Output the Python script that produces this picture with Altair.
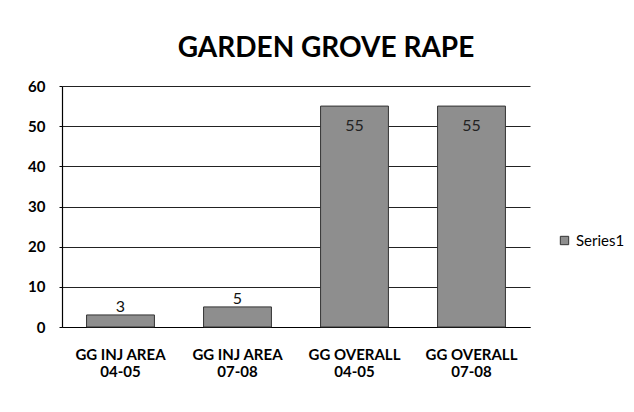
import altair as alt
import pandas as pd

categories = ["GG INJ AREA|04-05", "GG INJ AREA|07-08", "GG OVERALL|04-05", "GG OVERALL|07-08"]
values = [3, 5, 55, 55]
series = ["Series1"] * 4

df = pd.DataFrame({"cat": categories, "value": values, "series": series})

FONT = "Lato"

base = alt.Chart(df)

x = alt.X("cat:N", sort=categories, title=None,
          scale=alt.Scale(paddingInner=0.42, paddingOuter=0.21),
          axis=alt.Axis(labelExpr="split(datum.label, '|')", labelAngle=0,
                        labelFont=FONT, labelFontWeight="bold", labelFontSize=15,
                        labelColor="#000", labelPadding=20, labelLineHeight=17,
                        ticks=False, domainColor="#000", domainWidth=1.2))
y = alt.Y("value:Q", title=None,
          scale=alt.Scale(domain=[0, 60]),
          axis=alt.Axis(values=[0, 10, 20, 30, 40, 50, 60], labelFont=FONT,
                        labelFontWeight="bold", labelFontSize=15, labelColor="#000",
                        labelPadding=14, tickSize=3, tickColor="#000",
                        gridColor="#222", gridWidth=1, domainColor="#000",
                        domainWidth=1.2))

bars = base.mark_bar(stroke="#333", strokeWidth=1).encode(
    x=x, y=y,
    color=alt.Color("series:N", title=None,
                    scale=alt.Scale(range=["#8e8e8e"]),
                    legend=alt.Legend(orient="none", legendX=495, legendY=147,
                                      symbolType="square", symbolSize=70,
                                      symbolStrokeColor="#333", symbolStrokeWidth=1,
                                      labelFont=FONT, labelFontSize=15,
                                      labelColor="#000")),
)

small_labels = base.transform_filter("datum.value < 50").mark_text(
    baseline="bottom", dy=0, font=FONT, fontSize=16, color="#111"
).encode(x=alt.X("cat:N", sort=categories), y="value:Q", text="value:Q")

big_labels = base.transform_filter("datum.value >= 50").mark_text(
    baseline="middle", dy=20, font=FONT, fontSize=16, color="#222"
).encode(x=alt.X("cat:N", sort=categories), y="value:Q", text="value:Q")

chart = alt.layer(bars, small_labels, big_labels).properties(
    width=468, height=241,
    autosize=alt.AutoSizeParams(type="none"),
    padding={"left": 54, "top": 78, "right": 96, "bottom": 77},
    title=alt.TitleParams("GARDEN GROVE RAPE", font=FONT, fontSize=28,
                          fontWeight="bold", color="#000", offset=16, dx=30),
    background="white",
).configure_view(stroke=None)

chart.save("out.html", embed_options={"renderer": "svg", "actions": False})
